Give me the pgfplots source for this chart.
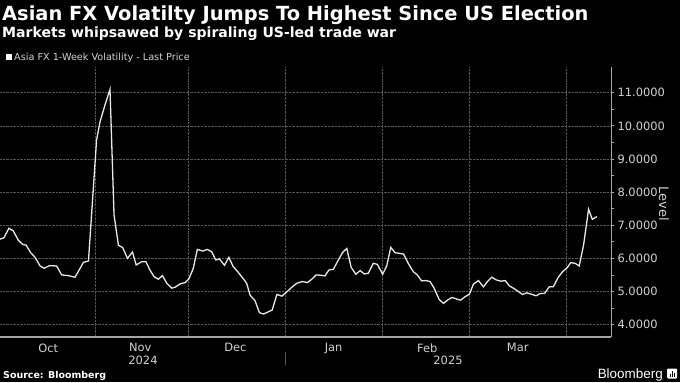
\documentclass[border=0pt]{standalone}
\usepackage{pgfplots}
\pgfplotsset{compat=1.18}
\usepackage{fontspec}
\setmainfont{DejaVu Sans}
\newfontfamily\lib{Liberation Sans}
\definecolor{linec}{RGB}{232,232,232}
\definecolor{gridc}{RGB}{85,85,85}
\definecolor{axc}{RGB}{165,165,165}
\definecolor{txt}{RGB}{210,210,210}
\begin{document}
\begin{tikzpicture}[x=1bp,y=1bp]
\fill[black] (0,0) rectangle (680,382);
\path[use as bounding box] (0,0) rectangle (680,382);
\begin{axis}[
  at={(0bp,45bp)}, anchor=south west, scale only axis,
  width=611bp, height=270bp,
  xmin=0.545, xmax=196.4, ymin=3.626, ymax=11.776,
  axis x line=bottom, axis y line=right,
  axis line style={-, draw=axc, line width=1bp},
  x axis line style={line width=1.8bp},
  xtick={31,61,92,123,151,182}, xticklabels={},
  x tick style={draw=none},
  extra x ticks={16,45.5,76,107.5,137.5,166.5},
  extra x tick labels={Oct,Nov,Dec,Jan,Feb,Mar},
  extra x tick style={grid=none},
  ytick={4,...,11}, minor y tick num=1,
  tick align=outside, major tick length=3bp, minor tick length=3bp,
  y tick style={draw=axc, line width=0.8bp},
  grid=major, major grid style={gridc, densely dotted, line width=0.6bp},
  tick label style={font=\fontsize{11.5}{14}\selectfont, text=txt},
  /pgf/number format/assume math mode=true,
  y tick label style={/pgf/number format/fixed, /pgf/number format/fixed zerofill, /pgf/number format/precision=4},
  clip=false,
]
\addplot[linec, line width=1.3bp] coordinates {
(0.5,6.58)(1.8,6.62)(3.4,6.91)(4.8,6.83)(6.4,6.55)(7.8,6.42)(8.9,6.40)(10.4,6.17)
(11.8,6.03)(13.4,5.77)(14.7,5.70)(16.4,5.78)(18.7,5.77)(20.3,5.50)(22.4,5.48)(24.6,5.43)
(27.3,5.88)(28.9,5.92)(31.5,9.57)(32.6,10.12)(34.2,10.63)(35.8,11.10)(37.1,7.31)(38.5,6.40)
(39.9,6.32)(41.4,6.00)(43.0,6.19)(44.2,5.80)(46.0,5.90)(47.3,5.90)(48.6,5.65)(49.9,5.45)
(51.3,5.37)(52.6,5.48)(54.0,5.25)(55.6,5.10)(56.7,5.13)(58.3,5.23)(59.9,5.27)(61.1,5.38)
(62.5,5.70)(63.8,6.27)(65.5,6.22)(67.0,6.27)(68.4,6.20)(69.7,5.95)(70.9,5.98)(72.5,5.79)
(73.9,6.03)(75.3,5.75)(76.9,5.58)(78.4,5.40)(79.6,5.25)(80.7,4.89)(82.3,4.72)(83.7,4.36)
(85.0,4.32)(86.2,4.37)(87.8,4.44)(89.3,4.91)(90.9,4.86)(92.5,4.99)(94.1,5.13)(95.7,5.25)
(97.5,5.30)(99.1,5.27)(100.5,5.37)(101.9,5.50)(103.4,5.49)(104.7,5.47)(106.0,5.65)(107.4,5.67)
(109.0,5.95)(110.3,6.17)(111.7,6.30)(113.1,5.73)(114.6,5.52)(116.0,5.63)(117.3,5.53)(118.6,5.55)
(120.2,5.85)(121.5,5.82)(123.2,5.52)(124.5,5.77)(125.8,6.33)(127.2,6.17)(128.6,6.15)(129.9,6.13)
(131.4,5.85)(133.0,5.60)(134.3,5.50)(135.7,5.32)(137.0,5.33)(138.4,5.30)(139.7,5.10)(141.3,4.76)
(142.7,4.64)(144.0,4.74)(145.4,4.82)(147.0,4.77)(148.2,4.74)(149.6,4.84)(151.0,4.92)(152.3,5.22)
(153.9,5.33)(155.5,5.14)(156.8,5.30)(158.2,5.43)(159.6,5.35)(161.1,5.31)(162.5,5.33)(163.8,5.17)
(165.1,5.10)(166.4,5.02)(168.0,4.91)(169.4,4.96)(170.8,4.92)(172.4,4.87)(173.7,4.94)(175.1,4.94)
(176.6,5.14)(177.9,5.14)(179.5,5.43)(180.9,5.60)(182.2,5.70)(183.5,5.87)(184.9,5.85)(186.2,5.77)
(187.6,6.40)(189.2,7.48)(190.4,7.18)(191.9,7.26)
};
\end{axis}
% titles
\node[anchor=base west, inner sep=0, text=white, font=\bfseries\fontsize{19.5}{22}\selectfont] at (2,361.3) {Asian FX Volatilty Jumps To Highest Since US Election};
\node[anchor=base west, inner sep=0, text=white, font=\bfseries\fontsize{14.1}{16}\selectfont] at (2,344.3) {Markets whipsawed by spiraling US-led trade war};
% legend
\fill[white] (5.7,322) rectangle (12.3,328.5);
\node[anchor=base west, inner sep=0, text=txt, font=\fontsize{9.7}{11}\selectfont] at (14,322) {Asia FX 1-Week Volatility - Last Price};
% level label
\node[text=txt, rotate=-90, font=\fontsize{13}{15}\selectfont] at (664,178) {Level};
% years
\draw[gridc, line width=0.8bp] (285,17) -- (285,30);
\node[text=txt, font=\fontsize{11.5}{14}\selectfont] at (143,22) {2024};
\node[text=txt, font=\fontsize{11.5}{14}\selectfont] at (448,22) {2025};
% source
\node[anchor=base west, inner sep=0, text=white, font=\bfseries\fontsize{9.5}{12}\selectfont] at (3,4) {Source: Bloomberg};
\node[anchor=base east, inner sep=0, text=white, font=\lib\fontsize{13.5}{15}\selectfont] at (663,4) {Bloomberg};
\fill[white, rounded corners=1bp] (667,3.5) rectangle (677,13.5);
\fill[black] (669.5,5.5) rectangle (670.7,8.5);
\fill[black] (671.5,5.5) rectangle (672.7,11);
\fill[black] (673.5,5.5) rectangle (674.7,9.5);
\end{tikzpicture}
\end{document}
